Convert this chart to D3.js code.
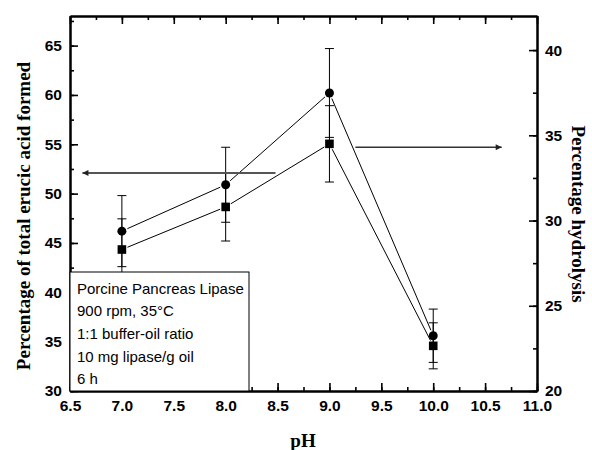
<!DOCTYPE html>
<html><head><meta charset="utf-8">
<script src="https://cdn.jsdelivr.net/npm/d3@7"></script>
<style>body{margin:0;background:#fff}</style>
</head><body><svg id="c" width="592" height="450"></svg>
<script>
// ---- data ----
const pH = [7.0, 8.0, 9.0, 10.0];
const erucic = [46.2, 50.9, 60.2, 35.6];          // circles, left axis
const erucicErr = [3.6, 3.8, 4.5, 2.7];
const hydrolysis = [28.3, 30.8, 34.5, 22.65];     // squares, right axis
const hydrolysisErr = [1.8, 2.0, 2.24, 1.35];
const xTicks = [6.5, 7.0, 7.5, 8.0, 8.5, 9.0, 9.5, 10.0, 10.5, 11.0];
const leftTicks = [30, 35, 40, 45, 50, 55, 60, 65];
const rightTicks = [20, 25, 30, 35, 40];
const legendLines = ["Porcine Pancreas Lipase", "900 rpm, 35°C", "1:1 buffer-oil ratio", "10 mg lipase/g oil", "6 h"];
const leftArrow = {from: 8.48, to: 6.62, value: 52.1};   // points to left axis
const rightArrow = {from: 9.25, to: 10.66, value: 34.3}; // points to right axis

// ---- layout ----
const W = 592, H = 450;
const L = 70, R = 537, T = 16, B = 391;
const svg = d3.select("#c");
const x = d3.scaleLinear().domain([6.5, 11]).range([L, R]);
const yL = d3.scaleLinear().domain([30, 68]).range([B, T]);
const yR = d3.scaleLinear().domain([20, 42]).range([B, T]);

const tickFont = "bold 15.5px 'Liberation Sans', Arial, sans-serif";
const fmt1 = d3.format(".1f");

function styleAxis(g) {
  g.select(".domain").attr("stroke", "#000").attr("stroke-width", 2);
  g.selectAll(".tick line").attr("stroke", "#000").attr("stroke-width", 1.6);
  g.selectAll("text").style("font", tickFont).attr("fill", "#000");
}
const range = (a, b, s) => d3.range(a, b + s / 2, s);

// minor ticks
const xMinor = range(6.5, 11, 0.25);
const lMinor = range(30, 67.5, 2.5);
const rMinor = range(20, 40, 2.5);

svg.append("g").attr("transform", `translate(0,${B})`)
  .call(d3.axisBottom(x).tickValues(xMinor).tickSize(-4).tickSizeOuter(0).tickFormat(""))
  .call(styleAxis);
svg.append("g").attr("transform", `translate(0,${B})`)
  .call(d3.axisBottom(x).tickValues(xTicks).tickSize(-8).tickSizeOuter(0).tickPadding(9).tickFormat(fmt1))
  .call(styleAxis);
svg.append("g").attr("transform", `translate(0,${T})`)
  .call(d3.axisTop(x).tickValues(xMinor).tickSize(-4).tickSizeOuter(0).tickFormat(""))
  .call(styleAxis);
svg.append("g").attr("transform", `translate(0,${T})`)
  .call(d3.axisTop(x).tickValues(xTicks).tickSize(-8).tickSizeOuter(0).tickFormat(""))
  .call(styleAxis);

svg.append("g").attr("transform", `translate(${L},0)`)
  .call(d3.axisLeft(yL).tickValues(lMinor).tickSize(-4).tickSizeOuter(0).tickFormat(""))
  .call(styleAxis);
svg.append("g").attr("transform", `translate(${L},0)`)
  .call(d3.axisLeft(yL).tickValues(leftTicks).tickSize(-8).tickSizeOuter(0).tickPadding(8).tickFormat(d3.format("d")))
  .call(styleAxis);
svg.append("g").attr("transform", `translate(${R},0)`)
  .call(d3.axisRight(yR).tickValues(rMinor).tickSize(-4).tickSizeOuter(0).tickFormat(""))
  .call(styleAxis);
svg.append("g").attr("transform", `translate(${R},0)`)
  .call(d3.axisRight(yR).tickValues(rightTicks).tickSize(-8).tickSizeOuter(0).tickPadding(8).tickFormat(d3.format("d")))
  .call(styleAxis);

// ---- series ----
function drawSeries(vals, errs, yScale, shape) {
  const pts = pH.map((p, i) => [x(p), yScale(vals[i])]);
  const g = svg.append("g");
  // error bars
  pH.forEach((p, i) => {
    const cx = x(p), y1 = yScale(vals[i] + errs[i]), y2 = yScale(vals[i] - errs[i]);
    g.append("line").attr("x1", cx).attr("x2", cx).attr("y1", y1).attr("y2", y2).attr("stroke", "#000").attr("stroke-width", 1);
    [y1, y2].forEach(yy => g.append("line").attr("x1", cx - 4.5).attr("x2", cx + 4.5).attr("y1", yy).attr("y2", yy).attr("stroke", "#000").attr("stroke-width", 1));
  });
  // connecting lines with gaps at symbols
  const gap = 6;
  for (let i = 0; i < pts.length - 1; i++) {
    const [x1, y1] = pts[i], [x2, y2] = pts[i + 1];
    const d = Math.hypot(x2 - x1, y2 - y1), ux = (x2 - x1) / d, uy = (y2 - y1) / d;
    g.append("line").attr("x1", x1 + ux * gap).attr("y1", y1 + uy * gap)
      .attr("x2", x2 - ux * gap).attr("y2", y2 - uy * gap).attr("stroke", "#000").attr("stroke-width", 1);
  }
  // symbols
  pts.forEach(([cx, cy]) => {
    if (shape === "circle") g.append("circle").attr("cx", cx).attr("cy", cy).attr("r", 4.5).attr("fill", "#000");
    else g.append("rect").attr("x", cx - 4.3).attr("y", cy - 4.3).attr("width", 8.6).attr("height", 8.6).attr("fill", "#000");
  });
}
drawSeries(erucic, erucicErr, yL, "circle");
drawSeries(hydrolysis, hydrolysisErr, yR, "square");

// ---- arrows ----
const defs = svg.append("defs");
defs.append("marker").attr("id", "ah").attr("viewBox", "0 0 10 10").attr("refX", 10).attr("refY", 5)
  .attr("markerUnits", "userSpaceOnUse").attr("markerWidth", 9).attr("markerHeight", 6).attr("orient", "auto")
  .append("path").attr("d", "M0,0 L10,5 L0,10 Z").attr("fill", "#222");
svg.append("line").attr("x1", x(leftArrow.from)).attr("x2", x(leftArrow.to))
  .attr("y1", yL(leftArrow.value)).attr("y2", yL(leftArrow.value))
  .attr("stroke", "#555").attr("stroke-width", 2).attr("marker-end", "url(#ah)");
svg.append("line").attr("x1", x(rightArrow.from)).attr("x2", x(rightArrow.to))
  .attr("y1", yR(rightArrow.value)).attr("y2", yR(rightArrow.value))
  .attr("stroke", "#333").attr("stroke-width", 1.3).attr("marker-end", "url(#ah)");

// ---- legend box ----
const lg = svg.append("g");
lg.append("rect").attr("x", L).attr("y", 272).attr("width", 249 - L).attr("height", B - 272)
  .attr("fill", "#fff").attr("stroke", "#000").attr("stroke-width", 1);
legendLines.forEach((t, i) => {
  lg.append("text").attr("x", 77).attr("y", 288.5 + i * 22.6).attr("dy", "0.35em")
    .style("font", "15px 'Liberation Sans', Arial, sans-serif").attr("fill", "#000").text(t);
});

// ---- axis titles ----
const titleFont = "bold 19px 'Liberation Serif', 'Times New Roman', serif";
svg.append("text").attr("x", 303).attr("y", 447).attr("text-anchor", "middle")
  .style("font", titleFont).text("pH");
svg.append("text").attr("transform", "translate(23,216) rotate(-90)").attr("text-anchor", "middle")
  .attr("dy", "0.35em").style("font", titleFont).text("Percentage of total erucic acid formed");
svg.append("text").attr("transform", "translate(579,214) rotate(90)").attr("text-anchor", "middle")
  .attr("dy", "0.35em").style("font", titleFont).text("Percentage hydrolysis");
</script>
</body></html>
